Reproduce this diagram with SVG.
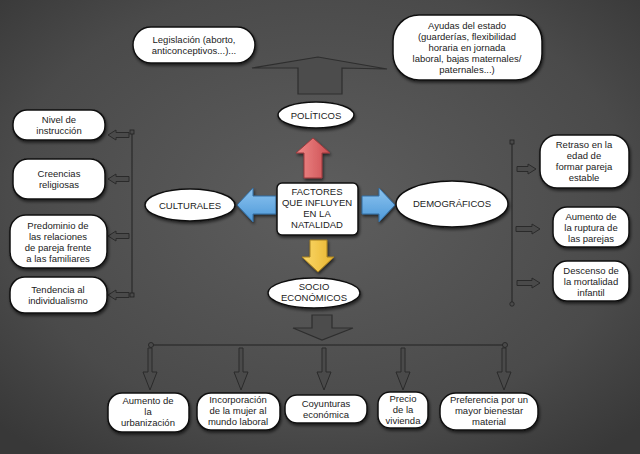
<svg xmlns="http://www.w3.org/2000/svg" width="640" height="454" viewBox="0 0 640 454">
<defs>
<radialGradient id="bg" cx="50%" cy="45%" r="70%">
<stop offset="0" stop-color="#5e5e5e"/>
<stop offset="0.7" stop-color="#4a4a4a"/>
<stop offset="1" stop-color="#383838"/>
</radialGradient>
<linearGradient id="red" x1="0" y1="0" x2="1" y2="0">
<stop offset="0" stop-color="#f08a8a"/><stop offset="1" stop-color="#cc4f52"/>
</linearGradient>
<linearGradient id="blue" x1="0" y1="0" x2="0" y2="1">
<stop offset="0" stop-color="#8cc4f0"/><stop offset="1" stop-color="#4d98d8"/>
</linearGradient>
<linearGradient id="yellow" x1="0" y1="0" x2="1" y2="0">
<stop offset="0" stop-color="#fbd96a"/><stop offset="1" stop-color="#e9b530"/>
</linearGradient>
<filter id="sh" x="-20%" y="-20%" width="140%" height="150%">
<feDropShadow dx="1" dy="2" stdDeviation="1.5" flood-color="#000" flood-opacity="0.6"/>
</filter>
</defs>
<style>
.n{fill:#fff;stroke:#111;stroke-width:1.5;filter:url(#sh)}
.t{font-family:"Liberation Sans",Arial,sans-serif;font-size:9.5px;fill:#222;text-anchor:middle}
.ha{fill:#4a4a4a;stroke:#2a2a2a;stroke-width:1}
.ln{stroke:#222;stroke-width:1;fill:none}
.big{fill:#4c4c4c;stroke:#2e2e2e;stroke-width:1.2}
</style>
<rect width="640" height="454" fill="url(#bg)"/>

<g id="connectors">
<path class="big" d="M252,68 L318,57 L387,69 L342,68 L342,94 L298,94 L298,68 Z"/>
<path class="big" d="M312,315 L332,315 L332,328 L353,328 L322,340 L293,328 L312,328 Z"/>
<path d="M313,138 L330,153 L322,153 L322,178 L304,178 L304,153 L296,153 Z" fill="url(#red)" stroke="#9a3b3d" stroke-width="1" filter="url(#sh)"/>
<path d="M318,272 L334,257 L327,257 L327,240 L310,240 L310,257 L302,257 Z" fill="url(#yellow)" stroke="#a6801f" stroke-width="1" filter="url(#sh)"/>
<path d="M237,205 L253,188 L253,196 L276,196 L276,214 L253,214 L253,222 Z" fill="url(#blue)" stroke="#356fa3" stroke-width="1" filter="url(#sh)"/>
<path d="M395,205 L379,188 L379,196 L362,196 L362,214 L379,214 L379,222 Z" fill="url(#blue)" stroke="#356fa3" stroke-width="1" filter="url(#sh)"/>
<line class="ln" x1="132" y1="132" x2="132" y2="295"/>
<rect x="130" y="130" width="4" height="4" fill="#4a4a4a" stroke="#222" stroke-width="0.8"/>
<rect x="130" y="293" width="4" height="4" fill="#4a4a4a" stroke="#222" stroke-width="0.8"/>
<path class="ha" d="M108,135 L116,130 L116,132.5 L129,132.5 L129,137.5 L116,137.5 L116,140 Z"/>
<path class="ha" d="M108,179 L116,174 L116,176.5 L129,176.5 L129,181.5 L116,181.5 L116,184 Z"/>
<path class="ha" d="M108,236 L116,231 L116,233.5 L129,233.5 L129,238.5 L116,238.5 L116,241 Z"/>
<path class="ha" d="M108,295 L116,290 L116,292.5 L129,292.5 L129,297.5 L116,297.5 L116,300 Z"/>
<line class="ln" x1="512" y1="142" x2="512" y2="303"/>
<rect x="510" y="140" width="4" height="4" fill="#4a4a4a" stroke="#222" stroke-width="0.8"/>
<circle cx="512" cy="304" r="2.2" fill="#4a4a4a" stroke="#222" stroke-width="0.8"/>
<path class="ha" d="M536,169 L528,164 L528,166.5 L517,166.5 L517,171.5 L528,171.5 L528,174 Z"/>
<path class="ha" d="M540,229 L532,224 L532,226.5 L516,226.5 L516,231.5 L532,231.5 L532,234 Z"/>
<path class="ha" d="M540,283 L532,278 L532,280.5 L517,280.5 L517,285.5 L532,285.5 L532,288 Z"/>
<line class="ln" x1="150" y1="345" x2="505" y2="345"/>
<circle cx="151" cy="345" r="2.5" fill="#4a4a4a" stroke="#222" stroke-width="0.8"/>
<circle cx="505" cy="345" r="2.5" fill="#4a4a4a" stroke="#222" stroke-width="0.8"/>
<path class="ha" d="M148,348 L152,348 L152,372 L157,372 L150,390 L143,372 L148,372 Z"/>
<path class="ha" d="M239,348 L243,348 L243,372 L248,372 L241,390 L234,372 L239,372 Z"/>
<path class="ha" d="M322,348 L326,348 L326,372 L331,372 L324,390 L317,372 L322,372 Z"/>
<path class="ha" d="M401,348 L405,348 L405,372 L410,372 L403,390 L396,372 L401,372 Z"/>
<path class="ha" d="M502,348 L506,348 L506,372 L511,372 L504,390 L497,372 L502,372 Z"/>
</g>

<g id="legislacion"><rect class="n" x="133" y="27" width="122" height="36" rx="18"/>
<text class="t" x="194" y="43">Legislación (aborto,</text><text class="t" x="194" y="54">anticonceptivos...)...</text></g>

<g id="ayudas"><rect class="n" x="393" y="15" width="149" height="65" rx="26"/>
<text class="t" x="467" y="29">Ayudas del estado</text><text class="t" x="467" y="40">(guarderías, flexibilidad</text><text class="t" x="467" y="51">horaria en jornada</text><text class="t" x="467" y="62">laboral, bajas maternales/</text><text class="t" x="467" y="73">paternales...)</text></g>

<g id="politicos"><ellipse class="n" cx="316" cy="115" rx="38" ry="13"/>
<text class="t" x="316" y="119">POLÍTICOS</text></g>

<g id="factores"><rect class="n" x="277" y="183" width="81" height="52" rx="5"/>
<text class="t" x="317" y="195">FACTORES</text><text class="t" x="317" y="206">QUE INFLUYEN</text><text class="t" x="317" y="217">EN LA</text><text class="t" x="317" y="228">NATALIDAD</text></g>

<g id="culturales"><ellipse class="n" cx="190" cy="205" rx="45" ry="16"/>
<text class="t" x="190" y="209">CULTURALES</text></g>

<g id="demograficos"><ellipse class="n" cx="452" cy="204" rx="56" ry="23"/>
<text class="t" x="452" y="207">DEMOGRÁFICOS</text></g>

<g id="socioeconomicos"><ellipse class="n" cx="314" cy="293" rx="46" ry="15"/>
<text class="t" x="314" y="290">SOCIO</text><text class="t" x="314" y="301">ECONÓMICOS</text></g>

<g id="nivel"><rect class="n" x="13" y="110" width="92" height="30" rx="14"/>
<text class="t" x="59" y="123">Nivel de</text><text class="t" x="59" y="134">instrucción</text></g>

<g id="creencias"><rect class="n" x="13" y="159" width="92" height="40" rx="15"/>
<text class="t" x="59" y="177">Creencias</text><text class="t" x="59" y="188">religiosas</text></g>

<g id="predominio"><rect class="n" x="10" y="215" width="97" height="53" rx="16"/>
<text class="t" x="58" y="229">Predominio de</text><text class="t" x="58" y="240">las relaciones</text><text class="t" x="58" y="251">de pareja frente</text><text class="t" x="58" y="262">a las familiares</text></g>

<g id="tendencia"><rect class="n" x="10" y="277" width="97" height="36" rx="15"/>
<text class="t" x="58" y="293">Tendencia al</text><text class="t" x="58" y="304">individualismo</text></g>

<g id="retraso"><rect class="n" x="540" y="135" width="89" height="53" rx="17"/>
<text class="t" x="584" y="148">Retraso en la</text><text class="t" x="584" y="159">edad de</text><text class="t" x="584" y="170">formar pareja</text><text class="t" x="584" y="181">estable</text></g>

<g id="ruptura"><rect class="n" x="553" y="207" width="76" height="40" rx="14"/>
<text class="t" x="591" y="220">Aumento de</text><text class="t" x="591" y="231">la ruptura de</text><text class="t" x="591" y="242">las parejas</text></g>

<g id="mortalidad"><rect class="n" x="553" y="261" width="76" height="40" rx="14"/>
<text class="t" x="591" y="274">Descenso de</text><text class="t" x="591" y="285">la mortalidad</text><text class="t" x="591" y="296">infantil</text></g>

<g id="urbanizacion"><rect class="n" x="108" y="393" width="81" height="39" rx="14"/>
<text class="t" x="148" y="404">Aumento de</text><text class="t" x="148" y="415">la</text><text class="t" x="148" y="426">urbanización</text></g>

<g id="incorporacion"><rect class="n" x="197" y="393" width="83" height="37" rx="14"/>
<text class="t" x="238" y="403">Incorporación</text><text class="t" x="238" y="414">de la mujer al</text><text class="t" x="238" y="425">mundo laboral</text></g>

<g id="coyunturas"><rect class="n" x="285" y="395" width="82" height="28" rx="12"/>
<text class="t" x="326" y="407">Coyunturas</text><text class="t" x="326" y="418">económica</text></g>

<g id="precio"><rect class="n" x="378" y="392" width="50" height="36" rx="12"/>
<text class="t" x="403" y="402">Precio</text><text class="t" x="403" y="413">de la</text><text class="t" x="403" y="424">vivienda</text></g>

<g id="preferencia"><rect class="n" x="440" y="393" width="98" height="37" rx="16"/>
<text class="t" x="489" y="403">Preferencia por un</text><text class="t" x="489" y="414">mayor bienestar</text><text class="t" x="489" y="425">material</text></g>
</svg>
